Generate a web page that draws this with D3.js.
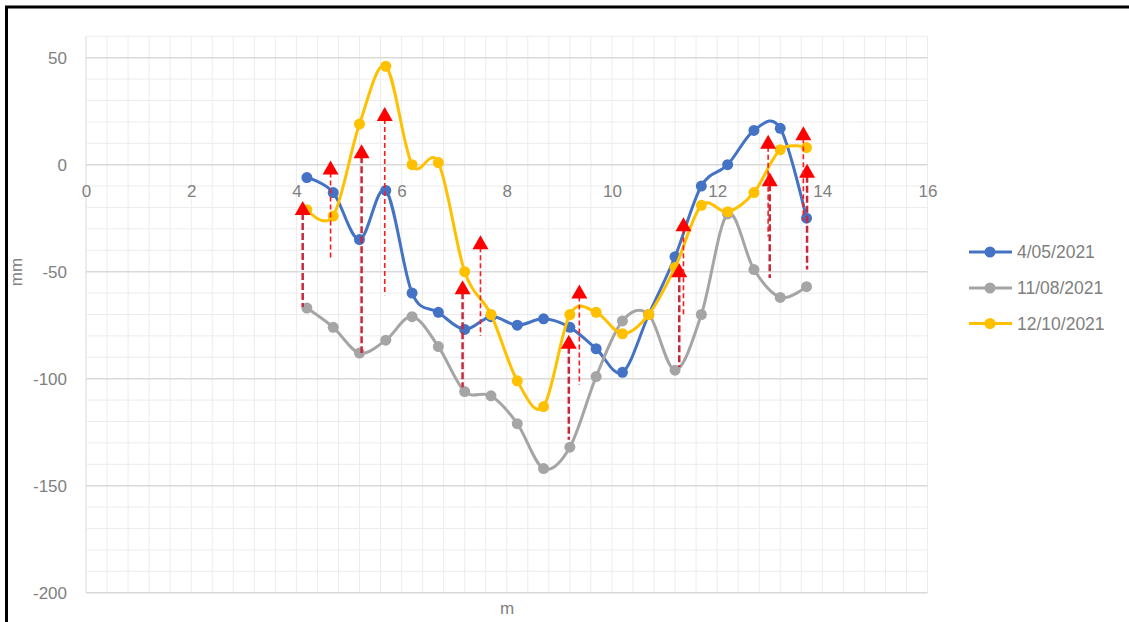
<!DOCTYPE html>
<html>
<head>
<meta charset="utf-8">
<script src="https://cdn.jsdelivr.net/npm/d3@7"></script>
<style>
  html, body { margin: 0; padding: 0; background: #ffffff; }
  svg { display: block; }
  text { font-family: "Liberation Sans", Arial, sans-serif; }
</style>
</head>
<body>
<svg id="chart" width="1129" height="622"></svg>
<script>
// ---------------- data ----------------
const positions = [4.2, 4.7, 5.2, 5.7, 6.2, 6.7, 7.2, 7.7, 8.2, 8.7, 9.2, 9.7, 10.2, 10.7, 11.2, 11.7, 12.2, 12.7, 13.2, 13.7];
const seriesNames = ["4/05/2021", "11/08/2021", "12/10/2021"];
const values0405 = [-6, -13, -35, -12, -60, -69, -77, -71, -75, -72, -76, -86, -97, -70, -43, -10, 0, 16, 17, -25];
const values1108 = [-67, -76, -88, -82, -71, -85, -106, -108, -121, -142, -132, -99, -73, -70, -96, -70, -23, -49, -62, -57];
const values1210 = [-21, -24, 19, 46, 0, 1, -50, -70, -101, -113, -70, -69, -79, -70, -48, -19, -22, -13, 7, 8];

// red arrows (thick dark dashed)
const arrowAx = [4.12, 5.24, 7.16, 9.18, 11.28, 13.0, 13.71];
const arrowAtip = [-17, 9.5, -54, -79.5, -46, -3.5, 0.5];
const arrowAbase = [-66.5, -88, -104, -128.5, -94.5, -53, -49];
// red arrows (thin bright dashed)
const arrowBx = [4.65, 5.68, 7.5, 9.38, 11.36, 12.97, 13.64];
const arrowBtip = [2, 27, -33, -56, -24.5, 14, 18];
const arrowBbase = [-44, -61, -80, -103, -71, -33.5, -26];

const xTicks = [0, 2, 4, 6, 8, 10, 12, 14, 16];
const yTicks = [-200, -150, -100, -50, 0, 50];
const xTitle = "m";
const yTitle = "mm";

// ---------------- setup ----------------
const svg = d3.select("#chart");
const x = d3.scaleLinear().domain([0, 16]).range([86, 927.5]);
const y = d3.scaleLinear().domain([-200, 60]).range([592.7, 36.3]);
const colors = ["#4472C4", "#A5A5A5", "#FFC000"];
const series = [values0405, values1108, values1210];

// frame (top & left visible)
svg.append("rect").attr("x", 6.5).attr("y", 7).attr("width", 1200).attr("height", 700)
  .attr("fill", "none").attr("stroke", "#000").attr("stroke-width", 3);

// grid
const grid = svg.append("g");
const xMinor = d3.range(0, 16.0001, 0.4);
grid.selectAll("line.vx").data(xMinor).join("line")
  .attr("x1", d => x(d)).attr("x2", d => x(d))
  .attr("y1", y(60)).attr("y2", y(-200))
  .attr("stroke", d => Math.abs(d) < 1e-6 ? "#d9d9d9" : "#ececec").attr("stroke-width", 1);
const yMinor = d3.range(-200, 60.001, 10).filter(v => v % 50 !== 0);
grid.selectAll("line.hm").data(yMinor).join("line")
  .attr("x1", x(0)).attr("x2", x(16))
  .attr("y1", d => y(d)).attr("y2", d => y(d))
  .attr("stroke", "#ececec").attr("stroke-width", 1);
grid.selectAll("line.hM").data(yTicks).join("line")
  .attr("x1", x(0)).attr("x2", x(16))
  .attr("y1", d => y(d)).attr("y2", d => y(d))
  .attr("stroke", "#d9d9d9").attr("stroke-width", 1.5);

// y axis labels
const fmt = d => String(d);
const yAxis = d3.axisLeft(y).tickValues(yTicks).tickSize(0).tickPadding(0).tickFormat(fmt);
const gy = svg.append("g").attr("transform", "translate(67,0)").call(yAxis);
gy.select(".domain").remove();
gy.selectAll("text").attr("font-size", 17).attr("fill", "#808080")
  .attr("font-family", "Liberation Sans, Arial, sans-serif");

// x axis labels (positioned below the zero line)
const xAxis = d3.axisBottom(x).tickValues(xTicks).tickSize(0).tickPadding(0).tickFormat(fmt);
const gx = svg.append("g").attr("transform", `translate(0,${y(0) + 20})`).call(xAxis);
gx.select(".domain").remove();
gx.selectAll("text").attr("font-size", 17).attr("fill", "#808080")
  .attr("font-family", "Liberation Sans, Arial, sans-serif");

// axis titles
svg.append("text").attr("x", 507).attr("y", 614).attr("text-anchor", "middle")
  .attr("font-size", 17).attr("fill", "#808080").text(xTitle);
svg.append("text").attr("transform", "translate(22,272) rotate(-90)").attr("text-anchor", "middle")
  .attr("font-size", 17).attr("fill", "#808080").text(yTitle);

// series
const line = d3.line().x(d => x(d[0])).y(d => y(d[1])).curve(d3.curveCardinal.tension(0));
series.forEach((vals, i) => {
  const pts = positions.map((p, j) => [p, vals[j]]);
  const g = svg.append("g");
  g.append("path").datum(pts).attr("d", line).attr("fill", "none")
    .attr("stroke", colors[i]).attr("stroke-width", 3).attr("stroke-linejoin", "round");
  g.selectAll("circle").data(pts).join("circle")
    .attr("cx", d => x(d[0])).attr("cy", d => y(d[1])).attr("r", 5.5)
    .attr("fill", colors[i]);
});

// arrows
function drawArrows(xs, tips, bases, style) {
  const g = svg.append("g");
  xs.forEach((xv, i) => {
    const cx = x(xv), ty = y(tips[i]), by = y(bases[i]);
    g.append("line").attr("x1", cx).attr("x2", cx).attr("y1", ty + 12).attr("y2", by)
      .attr("stroke", style.color).attr("stroke-width", style.width)
      .attr("stroke-dasharray", style.dash);
    g.append("path")
      .attr("d", `M${cx},${ty} L${cx + 8},${ty + 14} L${cx - 8},${ty + 14} Z`)
      .attr("fill", "#ff0000");
  });
}
drawArrows(arrowAx, arrowAtip, arrowAbase, { color: "#c8283c", width: 2.5, dash: "7,3" });
drawArrows(arrowBx, arrowBtip, arrowBbase, { color: "#ff1a1a", width: 1.6, dash: "5,3" });

// legend
const legend = svg.append("g");
const legendY = [252, 288, 323.5];
seriesNames.forEach((name, i) => {
  legend.append("line").attr("x1", 969).attr("x2", 1012).attr("y1", legendY[i]).attr("y2", legendY[i])
    .attr("stroke", colors[i]).attr("stroke-width", 3);
  legend.append("circle").attr("cx", 990).attr("cy", legendY[i]).attr("r", 5.5).attr("fill", colors[i]);
  legend.append("text").attr("x", 1017).attr("y", legendY[i] + 6).attr("font-size", 17.5)
    .attr("fill", "#808080").text(name);
});
</script>
</body>
</html>
